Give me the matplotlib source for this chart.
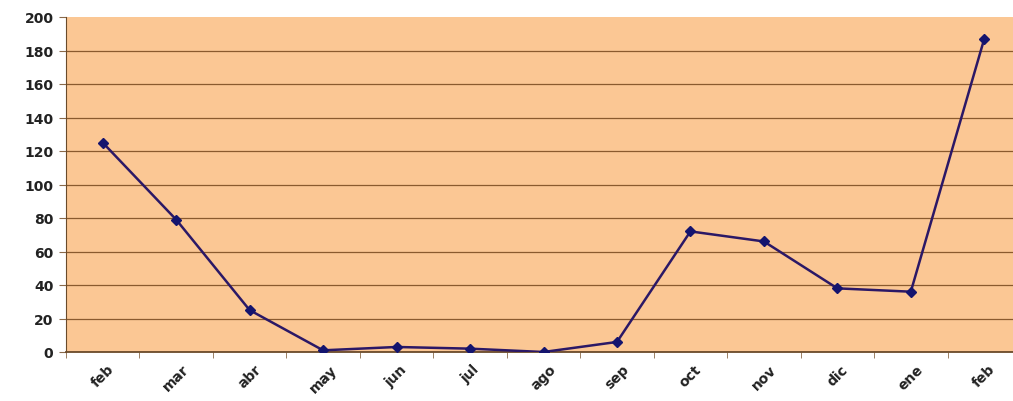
import matplotlib
matplotlib.use("Agg")
import matplotlib.pyplot as plt
import numpy as np

# data
months = ["feb", "mar", "abr", "may", "jun", "jul", "ago", "sep", "oct", "nov", "dic", "ene", "feb"]
values = [125, 79, 25, 1, 3, 2, 0, 6, 72, 66, 38, 36, 187]
y_ticks = [0, 20, 40, 60, 80, 100, 120, 140, 160, 180, 200]

fig = plt.figure(figsize=(10.13, 4.02), dpi=100, facecolor="white")
ax = fig.add_axes([66 / 1013, 49 / 402, (1021 - 66) / 1013, 335 / 402])
ax.set_facecolor("#fbc794")

x = np.arange(len(months))
ax.plot(x, values, color="#2b1866", linewidth=1.8, marker="D", markersize=5.5,
        markerfacecolor="#14146e", markeredgecolor="#14146e", zorder=3)

ax.set_xlim(-0.5, len(months) - 0.5)
ax.set_ylim(0, 200)
ax.set_yticks(y_ticks)
ax.set_yticklabels([str(v) for v in y_ticks], fontsize=10, fontweight="bold", color="#222222")
ax.yaxis.grid(True, color="#8a5a2e", linewidth=0.9)
ax.set_axisbelow(True)
# no gridline along the top edge in the reference
ax.yaxis.get_gridlines()[-1].set_visible(False)

ax.set_xticks(x)
ax.set_xticklabels(months, rotation=45, fontsize=10, fontweight="bold", color="#222222",
                   ha="center", va="top")
ax.tick_params(axis="x", length=0, pad=7)
ax.set_xticks(np.arange(-0.5, len(months), 1), minor=True)
ax.tick_params(axis="x", which="minor", length=4, direction="out", color="#8a6a4a")
ax.tick_params(axis="y", length=5, direction="out", color="#8a6a4a", pad=4)

for side in ["top", "right"]:
    ax.spines[side].set_visible(False)
ax.spines["left"].set_color("#6a4a2a")
ax.spines["bottom"].set_color("#6a4a2a")
ax.spines["bottom"].set_linewidth(1.3)

fig.savefig("out.png", dpi=100, facecolor="white")
